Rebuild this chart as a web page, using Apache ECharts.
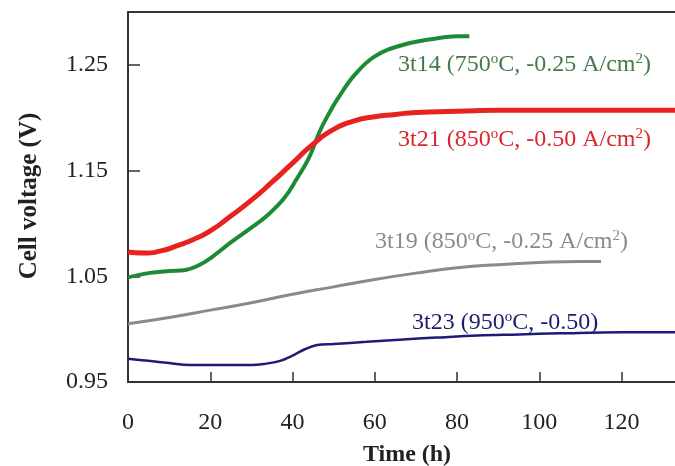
<!DOCTYPE html>
<html>
<head>
<meta charset="utf-8">
<script src="https://cdn.jsdelivr.net/npm/echarts@6/dist/echarts.min.js"></script>
<style>html,body{margin:0;padding:0;background:#fff}#c{width:675px;height:466px}</style>
</head>
<body>
<div id="c"></div>
<script>
// Data (time in h, cell voltage in V)
var t21_time = [0, 4, 8, 12, 16, 20, 25, 30, 35, 40, 45, 50, 55, 60, 65, 70, 80, 90, 100, 110, 120, 133];
var t21_volt = [1.073, 1.072, 1.074, 1.079, 1.085, 1.093, 1.107, 1.122, 1.139, 1.157, 1.175, 1.189, 1.197, 1.201, 1.203, 1.205, 1.206, 1.207, 1.207, 1.207, 1.207, 1.207];

var t14_time = [0, 5, 10, 14, 17, 20, 25, 30, 34, 38, 41, 44, 46.6, 49, 51, 55, 60, 67, 75, 80, 83];
var t14_volt = [1.049, 1.053, 1.055, 1.056, 1.060, 1.067, 1.082, 1.096, 1.108, 1.124, 1.142, 1.162, 1.187, 1.205, 1.218, 1.240, 1.258, 1.269, 1.275, 1.277, 1.277];

var t19_time = [0, 10, 20, 30, 40, 50, 60, 70, 80, 90, 100, 110, 115];
var t19_volt = [1.005, 1.011, 1.018, 1.025, 1.033, 1.040, 1.047, 1.053, 1.058, 1.061, 1.063, 1.064, 1.064];

var t23_time = [0, 5, 10, 15, 20, 30, 33, 37, 40, 43, 46, 50, 58, 66, 75, 85, 95, 105, 120, 133];
var t23_volt = [0.972, 0.970, 0.968, 0.966, 0.966, 0.966, 0.967, 0.970, 0.975, 0.981, 0.985, 0.986, 0.988, 0.990, 0.992, 0.994, 0.995, 0.996, 0.997, 0.997];

var yTicks = [0.95, 1.05, 1.15, 1.25];
var xTicks = [0, 20, 40, 60, 80, 100, 120];

function pairs(xs, ys) { return xs.map(function (x, i) { return [x, ys[i]]; }); }

var FONT = 'Liberation Serif';
var chart = echarts.init(document.getElementById('c'), null, {renderer: 'canvas'});

function note(x, y, color, text) {
  return {type: 'text', x: x, y: y,
    style: {rich: {
      n: {fontFamily: FONT, fontSize: 24, fill: color},
      s: {fontFamily: FONT, fontSize: 15, fill: color, padding: [0, 0, 12, 0]}
    }, text: text, verticalAlign: 'middle'}};
}

chart.setOption({
  animation: false,
  backgroundColor: '#ffffff',
  grid: {left: 128, top: 12, right: 0, bottom: 84, containLabel: false},
  xAxis: [{
    type: 'value', min: 0, max: 133, interval: 20, position: 'bottom',
    axisLine: {show: true, lineStyle: {color: '#333', width: 2}},
    axisTick: {show: true, inside: true, length: 10, lineStyle: {color: '#333', width: 1.5}, customValues: xTicks},
    axisLabel: {show: true, margin: 29, fontFamily: FONT, fontSize: 24, color: '#222', customValues: xTicks},
    splitLine: {show: false}
  }, {
    type: 'value', min: 0, max: 133, position: 'top',
    axisLine: {show: true, lineStyle: {color: '#333', width: 2}},
    axisTick: {show: false}, axisLabel: {show: false}, splitLine: {show: false}
  }],
  yAxis: {
    type: 'value', min: 0.95, max: 1.30,
    axisLine: {show: true, lineStyle: {color: '#333', width: 2}},
    axisTick: {show: true, inside: true, length: 12, lineStyle: {color: '#333', width: 1.5}, customValues: yTicks},
    axisLabel: {show: true, margin: 20, fontFamily: FONT, fontSize: 24, color: '#222', customValues: yTicks,
      formatter: function (v) { return v.toFixed(2); }},
    splitLine: {show: false}
  },
  series: [
    {name: '3t19', type: 'line', showSymbol: false, data: pairs(t19_time, t19_volt), smooth: 0.5,
      lineStyle: {color: '#8a8a8a', width: 3}},
    {name: '3t23', type: 'line', showSymbol: false, data: pairs(t23_time, t23_volt), smooth: 0.4,
      lineStyle: {color: '#1c1c78', width: 2.5}},
    {name: '3t14', type: 'line', showSymbol: false, data: pairs(t14_time, t14_volt), smooth: 0.4,
      lineStyle: {color: '#1f8a35', width: 4}},
    {name: '3t21', type: 'line', showSymbol: false, data: pairs(t21_time, t21_volt), smooth: 0.6,
      lineStyle: {color: '#e8231f', width: 5}}
  ],
  graphic: [
    {type: 'text', x: 30, y: 196, rotation: Math.PI / 2,
      style: {text: 'Cell voltage (V)', fontFamily: FONT, fontSize: 25, fontWeight: 'bold', fill: '#222', align: 'center', verticalAlign: 'middle'}},
    {type: 'text', x: 407, y: 455,
      style: {text: 'Time (h)', fontFamily: FONT, fontSize: 24, fontWeight: 'bold', fill: '#222', align: 'center', verticalAlign: 'middle'}},
    note(398, 65, '#457a4c', '{n|3t14 (750}{s|o}{n|C, -0.25 A/cm}{s|2}{n|)}'),
    note(398, 140, '#d8262e', '{n|3t21 (850}{s|o}{n|C, -0.50 A/cm}{s|2}{n|)}'),
    note(375, 242, '#8a8a8a', '{n|3t19 (850}{s|o}{n|C, -0.25 A/cm}{s|2}{n|)}'),
    note(412, 323, '#1c1c6e', '{n|3t23 (950}{s|o}{n|C, -0.50)}')
  ]
});
</script>
</body>
</html>
